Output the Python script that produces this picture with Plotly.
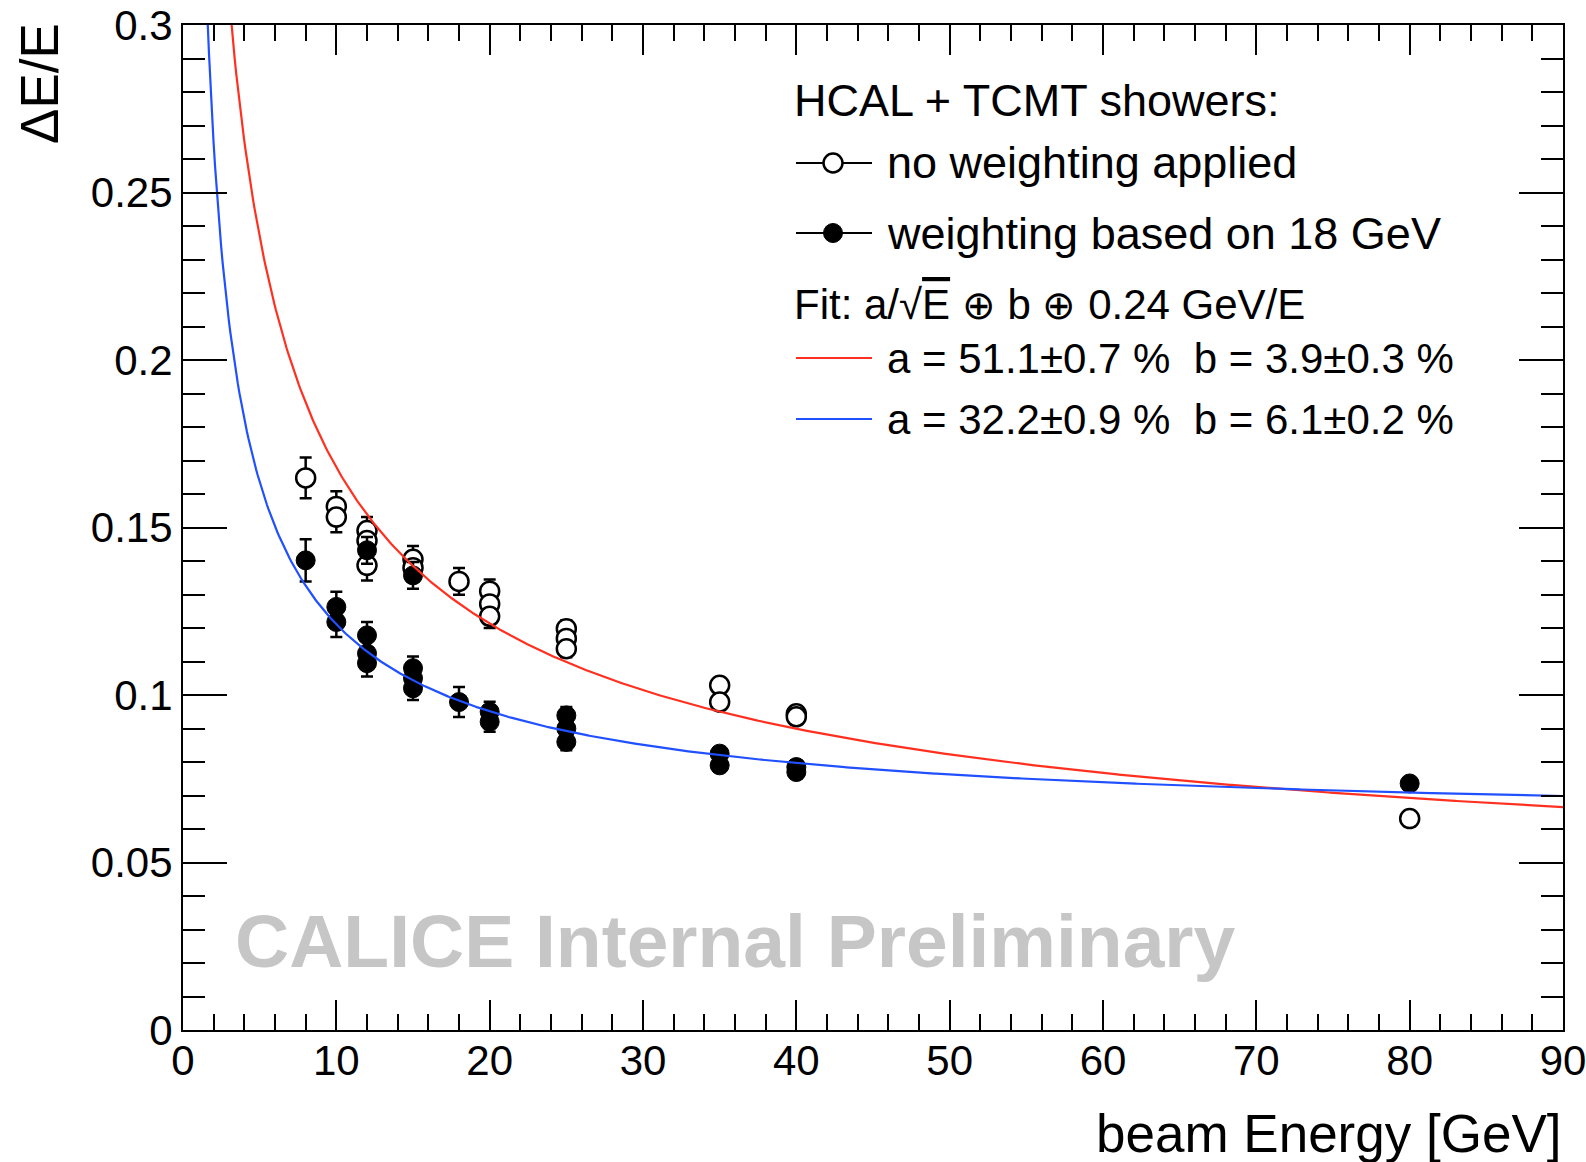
import numpy as np
import plotly.graph_objects as go

# ---------------- data ----------------
open_E = [8, 10, 10, 12, 12, 12, 15, 15, 18, 20, 20, 20, 25, 25, 25, 35, 35, 40, 40, 80]
open_val = [0.1648, 0.1563, 0.1531, 0.1491, 0.1461, 0.1387, 0.1405, 0.1380, 0.1339,
            0.1310, 0.1272, 0.1235, 0.1198, 0.1169, 0.1138, 0.1029, 0.0979, 0.0944, 0.0935, 0.0631]
open_err = [0.0061, 0.0045, 0.0045, 0.0040, 0.0040, 0.0045, 0.0040, 0.0040, 0.0040,
            0.0035, 0.0035, 0.0035, 0.0025, 0.0025, 0.0025, 0.0020, 0.0020, 0.0020, 0.0020, 0.0015]

filled_E = [8, 10, 10, 12, 12, 12, 12, 15, 15, 15, 15, 18, 20, 20, 25, 25, 25, 35, 35, 40, 40, 80]
filled_val = [0.1402, 0.1263, 0.1218, 0.1432, 0.1178, 0.1124, 0.1095, 0.1357, 0.1080, 0.1050,
              0.1020, 0.0979, 0.0950, 0.0920, 0.0939, 0.0900, 0.0860, 0.0825, 0.0790, 0.0785,
              0.0770, 0.0736]
filled_err = [0.0063, 0.0045, 0.0045, 0.0040, 0.0040, 0.0040, 0.0040, 0.0040, 0.0035, 0.0035,
              0.0035, 0.0045, 0.0030, 0.0030, 0.0025, 0.0025, 0.0025, 0.0020, 0.0020, 0.0020,
              0.0020, 0.0015]

# fit parameters: dE/E = a/sqrt(E) (+) b (+) c/E
fit_red = dict(a=0.511, b=0.039, c=0.24)
fit_blue = dict(a=0.322, b=0.061, c=0.24)

x_ticks = [0, 10, 20, 30, 40, 50, 60, 70, 80, 90]
x_tick_labels = ["0", "10", "20", "30", "40", "50", "60", "70", "80", "90"]
y_ticks = [0, 0.05, 0.1, 0.15, 0.2, 0.25, 0.3]
y_tick_labels = ["0", "0.05", "0.1", "0.15", "0.2", "0.25", "0.3"]

OPLUS = "<span style='font-size:40px'>⊕</span>"
legend_header = "HCAL + TCMT showers:"
legend_open = "no weighting applied"
legend_filled = "weighting based on 18 GeV"
legend_fit = ("Fit: a/√<span style='text-decoration:overline'>E</span> " + OPLUS
              + " b " + OPLUS + " 0.24 GeV/E")
legend_red = "a = 51.1±0.7 %\u00a0\u00a0b = 3.9±0.3 %"
legend_blue = "a = 32.2±0.9 %\u00a0\u00a0b = 6.1±0.2 %"
watermark = "CALICE Internal Preliminary"

# ---------------- figure ----------------
FONT = "Liberation Sans, Arial, Helvetica, sans-serif"
W, H = 1586, 1162
L, R, T, B = 183, 1563, 25, 1030
RED = "#ff3020"
BLUE = "#2050ff"


def px_x(p):
    return (p - L) / (R - L)


def px_y(p):
    return (B - p) / (B - T)


def fit_curve(E, a, b, c):
    return np.sqrt((a / np.sqrt(E)) ** 2 + b ** 2 + (c / E) ** 2)


E_grid = np.linspace(0.8, 90, 900)

fig = go.Figure()

fig.add_trace(go.Scatter(
    x=open_E, y=open_val, mode="markers",
    marker=dict(symbol="circle", size=19, color="white",
                line=dict(color="black", width=2.5)),
    error_y=dict(type="data", array=open_err, visible=True,
                 color="black", thickness=2.5, width=6),
    hoverinfo="skip"))

fig.add_trace(go.Scatter(
    x=filled_E, y=filled_val, mode="markers",
    marker=dict(symbol="circle", size=19, color="black",
                line=dict(color="black", width=1)),
    error_y=dict(type="data", array=filled_err, visible=True,
                 color="black", thickness=2.5, width=6),
    hoverinfo="skip"))

fig.add_trace(go.Scatter(
    x=E_grid, y=fit_curve(E_grid, **fit_red), mode="lines",
    line=dict(color=RED, width=2.2), hoverinfo="skip"))
fig.add_trace(go.Scatter(
    x=E_grid, y=fit_curve(E_grid, **fit_blue), mode="lines",
    line=dict(color=BLUE, width=2.2), hoverinfo="skip"))

axis_common = dict(
    ticks="inside", tickwidth=2, tickcolor="black",
    showline=True, linewidth=2, linecolor="black", mirror="ticks",
    showgrid=False, zeroline=False, automargin=False,
    ticklabeloverflow="allow",
    tickfont=dict(family=FONT, size=42, color="black"),
)

fig.update_xaxes(
    range=[0, 90], tickmode="array", tickvals=x_ticks, ticktext=x_tick_labels,
    ticklen=30, ticklabelstandoff=-7,
    minor=dict(dtick=2, tick0=0, ticks="inside", ticklen=16, tickwidth=2,
               tickcolor="black", showgrid=False),
    **axis_common)
fig.update_yaxes(
    range=[0, 0.3], tickmode="array", tickvals=y_ticks, ticktext=y_tick_labels,
    ticklen=44,
    minor=dict(dtick=0.01, tick0=0, ticks="inside", ticklen=22, tickwidth=2,
               tickcolor="black", showgrid=False),
    **axis_common)

annotations = []
shapes = []

# axis titles
annotations.append(dict(text="beam Energy [GeV]", xref="paper", yref="paper",
                        x=1.0, y=px_y(1133), xanchor="right", yanchor="middle",
                        showarrow=False, font=dict(family=FONT, size=53, color="black")))
annotations.append(dict(text="ΔE/E", xref="paper", yref="paper",
                        x=px_x(40), y=px_y(84), xanchor="center", yanchor="middle",
                        textangle=-90, showarrow=False,
                        font=dict(family=FONT, size=53, color="black")))

# watermark
annotations.append(dict(text="<b>" + watermark + "</b>", xref="paper", yref="paper",
                        x=px_x(233), y=px_y(941), xanchor="left", yanchor="middle",
                        showarrow=False, font=dict(family=FONT, size=75, color="#c6c6c6")))

# legend
text_x = 885
rows = [
    (legend_header, 792, 100, 45),
    (legend_open, text_x, 163, 45),
    (legend_filled, text_x, 233, 45),
    (legend_fit, 792, 305, 42),
    (legend_red, text_x, 358, 42),
    (legend_blue, text_x, 419, 42),
]
for txt, xp, yp, fs in rows:
    annotations.append(dict(text=txt, xref="paper", yref="paper",
                            x=px_x(xp), y=px_y(yp), xanchor="left", yanchor="middle",
                            showarrow=False,
                            font=dict(family=FONT, size=fs, color="black")))

line_x0, line_x1, mark_x = 796, 872, 833
for yp, col in [(163, "black"), (233, "black"), (358, RED), (419, BLUE)]:
    shapes.append(dict(type="line", xref="paper", yref="paper",
                       x0=px_x(line_x0), x1=px_x(line_x1), y0=px_y(yp), y1=px_y(yp),
                       line=dict(color=col, width=2.2)))
rad = 9.5
shapes.append(dict(type="circle", xref="paper", yref="paper",
                   x0=px_x(mark_x - rad), x1=px_x(mark_x + rad),
                   y0=px_y(163 + rad), y1=px_y(163 - rad),
                   fillcolor="white", line=dict(color="black", width=2.5)))
shapes.append(dict(type="circle", xref="paper", yref="paper",
                   x0=px_x(mark_x - rad), x1=px_x(mark_x + rad),
                   y0=px_y(233 + rad), y1=px_y(233 - rad),
                   fillcolor="black", line=dict(color="black", width=1)))

fig.update_layout(
    width=W, height=H,
    margin=dict(l=L, r=W - R, t=T, b=H - B, autoexpand=False),
    plot_bgcolor="white", paper_bgcolor="white",
    showlegend=False,
    font=dict(family=FONT, color="black"),
    annotations=annotations, shapes=shapes,
)

fig.write_html("out.html", config={"displayModeBar": False},
               post_script="document.body.style.margin='0';")
